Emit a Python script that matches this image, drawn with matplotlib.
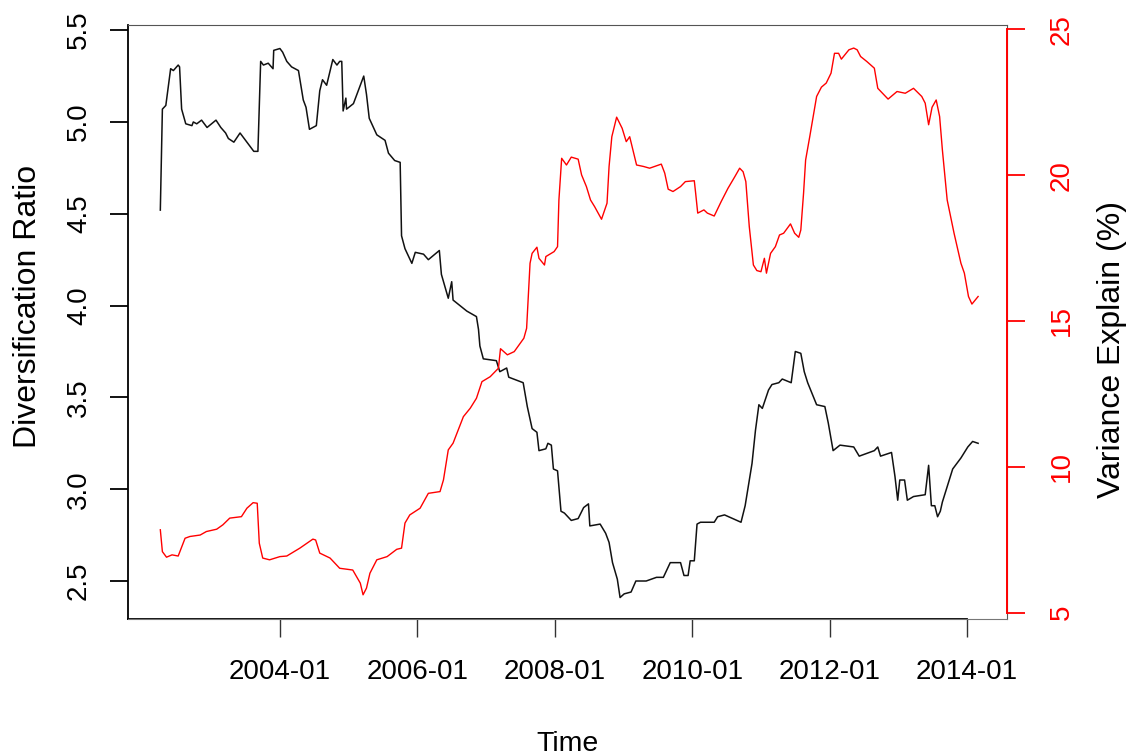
import matplotlib
matplotlib.use("Agg")
import matplotlib.pyplot as pyplot

pyplot.rcParams['font.family'] = ['Liberation Sans', 'DejaVu Sans']

# diversification ratio (left axis), time in decimal years
dr_years = [
    2002.26, 2002.29, 2002.34, 2002.41, 2002.45, 2002.52, 2002.54, 2002.57, 2002.63, 2002.72,
    2002.74, 2002.79, 2002.86, 2002.94, 2003.07, 2003.14, 2003.21, 2003.25, 2003.33, 2003.42,
    2003.52, 2003.62, 2003.68, 2003.72, 2003.76, 2003.83, 2003.90, 2003.91, 2004.00, 2004.04,
    2004.10, 2004.17, 2004.27, 2004.34, 2004.38, 2004.43, 2004.53, 2004.58, 2004.62, 2004.68,
    2004.77, 2004.83, 2004.87, 2004.90, 2004.92, 2004.96, 2004.97, 2005.07, 2005.12, 2005.22,
    2005.26, 2005.30, 2005.41, 2005.53, 2005.58, 2005.67, 2005.75, 2005.77, 2005.82, 2005.92,
    2005.97, 2006.09, 2006.16, 2006.32, 2006.35, 2006.45, 2006.50, 2006.52, 2006.72, 2006.86,
    2006.89, 2006.91, 2006.96, 2007.15, 2007.20, 2007.30, 2007.33, 2007.54, 2007.60, 2007.67,
    2007.74, 2007.77, 2007.87, 2007.90, 2007.95, 2007.98, 2008.04, 2008.09, 2008.14, 2008.24,
    2008.34, 2008.42, 2008.49, 2008.51, 2008.66, 2008.74, 2008.79, 2008.84, 2008.91, 2008.95,
    2009.01, 2009.11, 2009.18, 2009.33, 2009.48, 2009.58, 2009.68, 2009.83, 2009.88, 2009.94,
    2009.97, 2010.03, 2010.07, 2010.12, 2010.32, 2010.37, 2010.47, 2010.71, 2010.77, 2010.87,
    2010.92, 2010.97, 2011.02, 2011.11, 2011.16, 2011.26, 2011.31, 2011.44, 2011.50, 2011.58,
    2011.63, 2011.68, 2011.81, 2011.93, 2011.98, 2012.05, 2012.15, 2012.35, 2012.43, 2012.65,
    2012.70, 2012.74, 2012.90, 2012.95, 2012.99, 2013.02, 2013.09, 2013.13, 2013.22, 2013.39,
    2013.44, 2013.48, 2013.53, 2013.57, 2013.61, 2013.64, 2013.79, 2013.91, 2014.01, 2014.08,
    2014.16,
]
dr_values = [
    4.52, 5.07, 5.09, 5.29, 5.28, 5.31, 5.30, 5.07, 4.99, 4.98,
    5.00, 4.99, 5.01, 4.97, 5.01, 4.97, 4.94, 4.91, 4.89, 4.94,
    4.89, 4.84, 4.84, 5.33, 5.31, 5.32, 5.29, 5.39, 5.40, 5.38,
    5.33, 5.30, 5.28, 5.12, 5.08, 4.96, 4.98, 5.17, 5.23, 5.20,
    5.34, 5.31, 5.33, 5.33, 5.06, 5.13, 5.07, 5.10, 5.15, 5.25,
    5.15, 5.02, 4.93, 4.90, 4.83, 4.79, 4.78, 4.38, 4.31, 4.23,
    4.29, 4.28, 4.25, 4.30, 4.17, 4.04, 4.13, 4.03, 3.97, 3.94,
    3.87, 3.78, 3.71, 3.70, 3.64, 3.66, 3.61, 3.58, 3.45, 3.33,
    3.31, 3.21, 3.22, 3.25, 3.24, 3.11, 3.10, 2.88, 2.87, 2.83,
    2.84, 2.90, 2.92, 2.80, 2.81, 2.76, 2.71, 2.60, 2.51, 2.41,
    2.43, 2.44, 2.50, 2.50, 2.52, 2.52, 2.60, 2.60, 2.53, 2.53,
    2.61, 2.61, 2.81, 2.82, 2.82, 2.85, 2.86, 2.82, 2.91, 3.14,
    3.32, 3.46, 3.44, 3.54, 3.57, 3.58, 3.60, 3.58, 3.75, 3.74,
    3.64, 3.58, 3.46, 3.45, 3.36, 3.21, 3.24, 3.23, 3.18, 3.21,
    3.23, 3.18, 3.20, 3.07, 2.94, 3.05, 3.05, 2.94, 2.96, 2.97,
    3.13, 2.91, 2.91, 2.85, 2.88, 2.93, 3.11, 3.17, 3.23, 3.26,
    3.25,
]

# variance explained by the first component, in percent (right axis)
ve_years = [
    2002.26, 2002.29, 2002.35, 2002.43, 2002.52, 2002.62, 2002.69, 2002.84, 2002.93, 2003.08,
    2003.17, 2003.27, 2003.44, 2003.52, 2003.61, 2003.67, 2003.70, 2003.75, 2003.85, 2004.00,
    2004.10, 2004.29, 2004.48, 2004.52, 2004.58, 2004.73, 2004.87, 2005.06, 2005.17, 2005.21,
    2005.26, 2005.31, 2005.41, 2005.56, 2005.70, 2005.77, 2005.82, 2005.89, 2006.04, 2006.16,
    2006.33, 2006.38, 2006.45, 2006.52, 2006.67, 2006.77, 2006.86, 2006.94, 2007.06, 2007.18,
    2007.21, 2007.31, 2007.41, 2007.55, 2007.59, 2007.64, 2007.67, 2007.74, 2007.77, 2007.85,
    2007.87, 2007.99, 2008.04, 2008.06, 2008.10, 2008.17, 2008.24, 2008.34, 2008.39, 2008.46,
    2008.52, 2008.58, 2008.68, 2008.76, 2008.79, 2008.83, 2008.90, 2008.98, 2009.04, 2009.09,
    2009.19, 2009.29, 2009.38, 2009.55, 2009.60, 2009.65, 2009.72, 2009.83, 2009.90, 2010.03,
    2010.05, 2010.08, 2010.17, 2010.22, 2010.32, 2010.42, 2010.52, 2010.62, 2010.69, 2010.74,
    2010.78, 2010.83, 2010.89, 2010.94, 2011.00, 2011.05, 2011.08, 2011.14, 2011.21, 2011.27,
    2011.33, 2011.43, 2011.49, 2011.55, 2011.58, 2011.62, 2011.65, 2011.71, 2011.76, 2011.81,
    2011.88, 2011.95, 2012.02, 2012.07, 2012.13, 2012.17, 2012.28, 2012.35, 2012.40, 2012.45,
    2012.54, 2012.65, 2012.70, 2012.85, 2012.98, 2013.10, 2013.22, 2013.34, 2013.39, 2013.44,
    2013.49, 2013.55, 2013.60, 2013.64, 2013.71, 2013.81, 2013.91, 2013.96, 2014.02, 2014.07,
    2014.16,
]
ve_values = [
    7.84, 7.09, 6.90, 6.98, 6.94, 7.55, 7.61, 7.66, 7.78, 7.86,
    8.01, 8.24, 8.29, 8.58, 8.77, 8.75, 7.38, 6.87, 6.81, 6.92,
    6.94, 7.21, 7.52, 7.49, 7.04, 6.87, 6.52, 6.46, 6.01, 5.61,
    5.84, 6.35, 6.81, 6.92, 7.17, 7.21, 8.07, 8.35, 8.58, 9.09,
    9.15, 9.55, 10.58, 10.81, 11.72, 12.01, 12.35, 12.92, 13.09, 13.38,
    14.05, 13.84, 13.95, 14.41, 14.75, 16.98, 17.32, 17.53, 17.15, 16.92,
    17.21, 17.38, 17.55, 19.15, 20.58, 20.35, 20.62, 20.55, 20.01, 19.61,
    19.15, 18.92, 18.49, 19.04, 20.30, 21.32, 21.99, 21.61, 21.15, 21.32,
    20.35, 20.30, 20.24, 20.38, 20.07, 19.52, 19.44, 19.61, 19.78, 19.81,
    19.38, 18.70, 18.81, 18.70, 18.60, 19.09, 19.55, 19.95, 20.24, 20.12,
    19.78, 18.24, 16.92, 16.73, 16.69, 17.15, 16.64, 17.32, 17.55, 17.95,
    18.01, 18.33, 18.01, 17.87, 18.12, 19.38, 20.52, 21.32, 22.01, 22.70,
    23.02, 23.16, 23.50, 24.18, 24.18, 23.98, 24.30, 24.36, 24.30, 24.07,
    23.90, 23.67, 22.98, 22.61, 22.87, 22.81, 22.98, 22.70, 22.47, 21.73,
    22.33, 22.58, 22.01, 20.87, 19.15, 18.01, 16.98, 16.64, 15.84, 15.58,
    15.84,
]

dr_ticks = [2.5, 3.0, 3.5, 4.0, 4.5, 5.0, 5.5]
ve_ticks = [5, 10, 15, 20, 25]
year_ticks = [2004, 2006, 2008, 2010, 2012, 2014]
year_labels = ["2004-01", "2006-01", "2008-01", "2010-01", "2012-01", "2014-01"]

fig = pyplot.figure(figsize=(11.35, 7.56), dpi=100)
ax1 = fig.add_axes([0.1128, 0.1812, 0.7744, 0.7857])
ax2 = ax1.twinx()

ax1.plot(dr_years, dr_values, color="#111111", linewidth=1.1)
ax2.plot(ve_years, ve_values, color="red", linewidth=1.0)

ax1.set_xlim(2001.79, 2014.58)
ax1.set_ylim(2.293, 5.528)
ax2.set_ylim(4.78, 25.15)

# left axis: black, rotated labels
ax1.set_yticks(dr_ticks)
ax1.set_yticklabels([f"{v:.1f}" for v in dr_ticks])
ax1.tick_params(axis="y", length=13, width=1.3, labelsize=20, pad=13, direction="out")
for lab in ax1.get_yticklabels():
    lab.set_rotation(90)
    lab.set_verticalalignment("center")

# bottom axis
ax1.set_xticks(year_ticks)
ax1.set_xticklabels(year_labels)
ax1.tick_params(axis="x", length=13, width=1.0, color="#333333", labelsize=20, pad=16)

# right axis in red
ax2.set_yticks(ve_ticks)
ax2.set_yticklabels([str(v) for v in ve_ticks])
ax2.tick_params(axis="y", length=13, width=1.3, labelsize=20, pad=17,
                colors="red", direction="out")
for lab in ax2.get_yticklabels():
    lab.set_rotation(90)
    lab.set_verticalalignment("center")

# frame: thin grey box, heavy axis lines on left / bottom, red right axis
for side in ["top", "right", "bottom"]:
    ax1.spines[side].set_color("#555555")
    ax1.spines[side].set_linewidth(0.8)
ax1.spines["left"].set_color("black")
ax1.spines["left"].set_linewidth(1.3)
ax1.spines["bottom"].set_bounds(2001.79, 2014.0)
ax1.spines["bottom"].set_color("black")
ax1.spines["bottom"].set_linewidth(1.3)
ax2.spines["left"].set_visible(False)
ax2.spines["top"].set_visible(False)
ax2.spines["bottom"].set_color("#777777")
ax2.spines["bottom"].set_linewidth(0.8)
ax2.spines["right"].set_color("red")
ax2.spines["right"].set_linewidth(1.4)
ax2.spines["right"].set_bounds(5, 25)

ax1.set_xlabel("Time", fontsize=20.5)
ax1.xaxis.set_label_coords(0.5, -0.188)
ax1.set_ylabel("Diversification Ratio", fontsize=23)
ax1.yaxis.set_label_coords(-0.097, 0.527)
ax2.set_ylabel("Variance Explain (%)", fontsize=23)
ax2.yaxis.set_label_coords(1.1024, 0.453)

pyplot.savefig("out.png", dpi=100)
pyplot.close("all")
